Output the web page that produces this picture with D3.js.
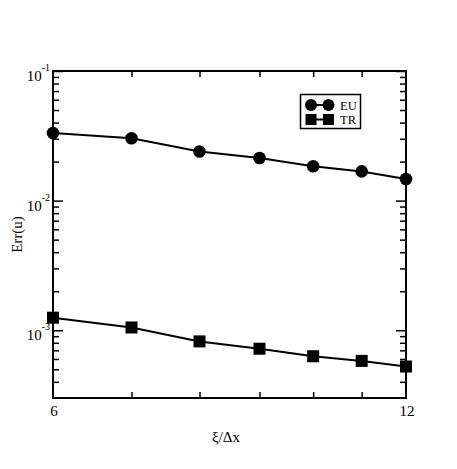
<!DOCTYPE html>
<html lang="en">
<head>
  <meta charset="UTF-8">
  <title>Err(u) vs xi/dx</title>
  <script src="https://cdn.jsdelivr.net/npm/d3@7"></script>
  <style>
    body { margin: 0; background: #fff; }
    text { font-family: "Liberation Serif", "Times New Roman", serif; }
  </style>
</head>
<body>
<svg></svg>
<script>
  const width = 457, height = 469
  const margin = {top: 71, right: 51, bottom: 71, left: 53}

  // data
  const xValues = [6, 7, 8, 9, 10, 11, 12]
  const euValues = [0.0332, 0.0303, 0.0239, 0.0213, 0.0184, 0.0168, 0.0147]
  const trValues = [0.00125, 0.00105, 0.00082, 0.00072, 0.00063, 0.00058, 0.000525]
  const seriesNames = ['EU', 'TR']
  const xMajor = [6, 12]
  const xMinor = [7, 8, 9, 10, 11]
  const yMajor = [1e-1, 1e-2, 1e-3]
  const yMajorExp = ['-1', '-2', '-3']
  const yMinor = [4e-4, 5e-4, 6e-4, 7e-4, 8e-4, 9e-4,
    2e-3, 3e-3, 4e-3, 5e-3, 6e-3, 7e-3, 8e-3, 9e-3,
    2e-2, 3e-2, 4e-2, 5e-2, 6e-2, 7e-2, 8e-2, 9e-2]

  const svg = d3.select('svg')
      .attr('width', width)
      .attr('height', height)

  const x = d3.scaleLog()
      .domain([6, 12])
      .range([margin.left, width - margin.right])

  const y = d3.scaleLog()
      .domain([3e-4, 1e-1])
      .range([height - margin.bottom, margin.top])

  const x0 = margin.left, x1 = width - margin.right
  const y0 = height - margin.bottom, y1 = margin.top

  // ticks on all four sides, pointing inward
  function ticks(axis, vals, size, transform) {
    const g = svg.append('g')
        .attr('transform', transform)
        .call(axis.tickValues(vals).tickSizeInner(size).tickSizeOuter(0).tickFormat(''))
    g.select('.domain').remove()
    g.selectAll('line').attr('stroke', '#000').attr('stroke-width', 1.5)
  }
  ticks(d3.axisBottom(x), xMinor, -6, `translate(0,${y0})`)
  ticks(d3.axisTop(x), xMinor, -6, `translate(0,${y1})`)
  ticks(d3.axisLeft(y), yMajor, -10, `translate(${x0},0)`)
  ticks(d3.axisLeft(y), yMinor, -6, `translate(${x0},0)`)
  ticks(d3.axisRight(y), yMajor, -10, `translate(${x1},0)`)
  ticks(d3.axisRight(y), yMinor, -6, `translate(${x1},0)`)

  svg.append('rect')
      .attr('x', x0).attr('y', y1)
      .attr('width', x1 - x0).attr('height', y0 - y1)
      .attr('fill', 'none')
      .attr('stroke', '#000')
      .attr('stroke-width', 2)

  // y tick labels 10^n
  yMajor.forEach((v, i) => {
    const t = svg.append('text')
        .attr('x', x0 - 3)
        .attr('y', y(v) + 10)
        .attr('text-anchor', 'end')
        .attr('font-size', 15)
    t.append('tspan').text('10')
    t.append('tspan')
        .attr('dy', -10)
        .attr('font-size', 10)
        .text(yMajorExp[i])
  })

  // x tick labels
  svg.selectAll('.xlab')
      .data(xMajor)
      .join('text')
      .attr('class', 'xlab')
      .attr('x', d => x(d) + 1)
      .attr('y', y0 + 18)
      .attr('text-anchor', 'middle')
      .attr('font-size', 15)
      .text(d => d)

  svg.append('text')
      .attr('x', 226)
      .attr('y', 442)
      .attr('text-anchor', 'middle')
      .attr('font-size', 15)
      .text('ξ/Δx')

  svg.append('text')
      .attr('transform', `translate(22,${(y0 + y1) / 2}) rotate(-90)`)
      .attr('text-anchor', 'middle')
      .attr('font-size', 15)
      .text('Err(u)')

  const line = d3.line()
      .x((d, i) => x(xValues[i]))
      .y(d => y(d))

  svg.append('path')
      .attr('fill', 'none')
      .attr('stroke', '#000')
      .attr('stroke-width', 2)
      .attr('d', line(euValues))

  svg.append('path')
      .attr('fill', 'none')
      .attr('stroke', '#000')
      .attr('stroke-width', 2)
      .attr('d', line(trValues))

  svg.selectAll('.eu')
      .data(euValues)
      .join('circle')
      .attr('class', 'eu')
      .attr('cx', (d, i) => x(xValues[i]))
      .attr('cy', d => y(d))
      .attr('r', 6.3)
      .attr('fill', '#000')

  svg.selectAll('.tr')
      .data(trValues)
      .join('rect')
      .attr('class', 'tr')
      .attr('x', (d, i) => x(xValues[i]) - 6)
      .attr('y', d => y(d) - 6)
      .attr('width', 12)
      .attr('height', 12)
      .attr('fill', '#000')

  // legend
  const lg = svg.append('g')
  lg.append('rect')
      .attr('x', 300.5).attr('y', 94.5)
      .attr('width', 60).attr('height', 34)
      .attr('fill', '#fff')
      .attr('stroke', '#000')
      .attr('stroke-width', 1.5)
  const ly = [105, 119.5]
  ly.forEach((yy, i) => {
    lg.append('line')
        .attr('x1', 311).attr('x2', 328.5)
        .attr('y1', yy).attr('y2', yy)
        .attr('stroke', '#000').attr('stroke-width', 2)
    ;[311, 328.5].forEach(cx => {
      if (i === 0) {
        lg.append('circle').attr('cx', cx).attr('cy', yy).attr('r', 6).attr('fill', '#000')
      } else {
        lg.append('rect').attr('x', cx - 5.5).attr('y', yy - 5.5)
            .attr('width', 11).attr('height', 11).attr('fill', '#000')
      }
    })
    lg.append('text')
        .attr('x', 340)
        .attr('y', yy + 4.5)
        .attr('font-size', 12.5)
        .text(seriesNames[i])
  })
</script>
</body>
</html>
